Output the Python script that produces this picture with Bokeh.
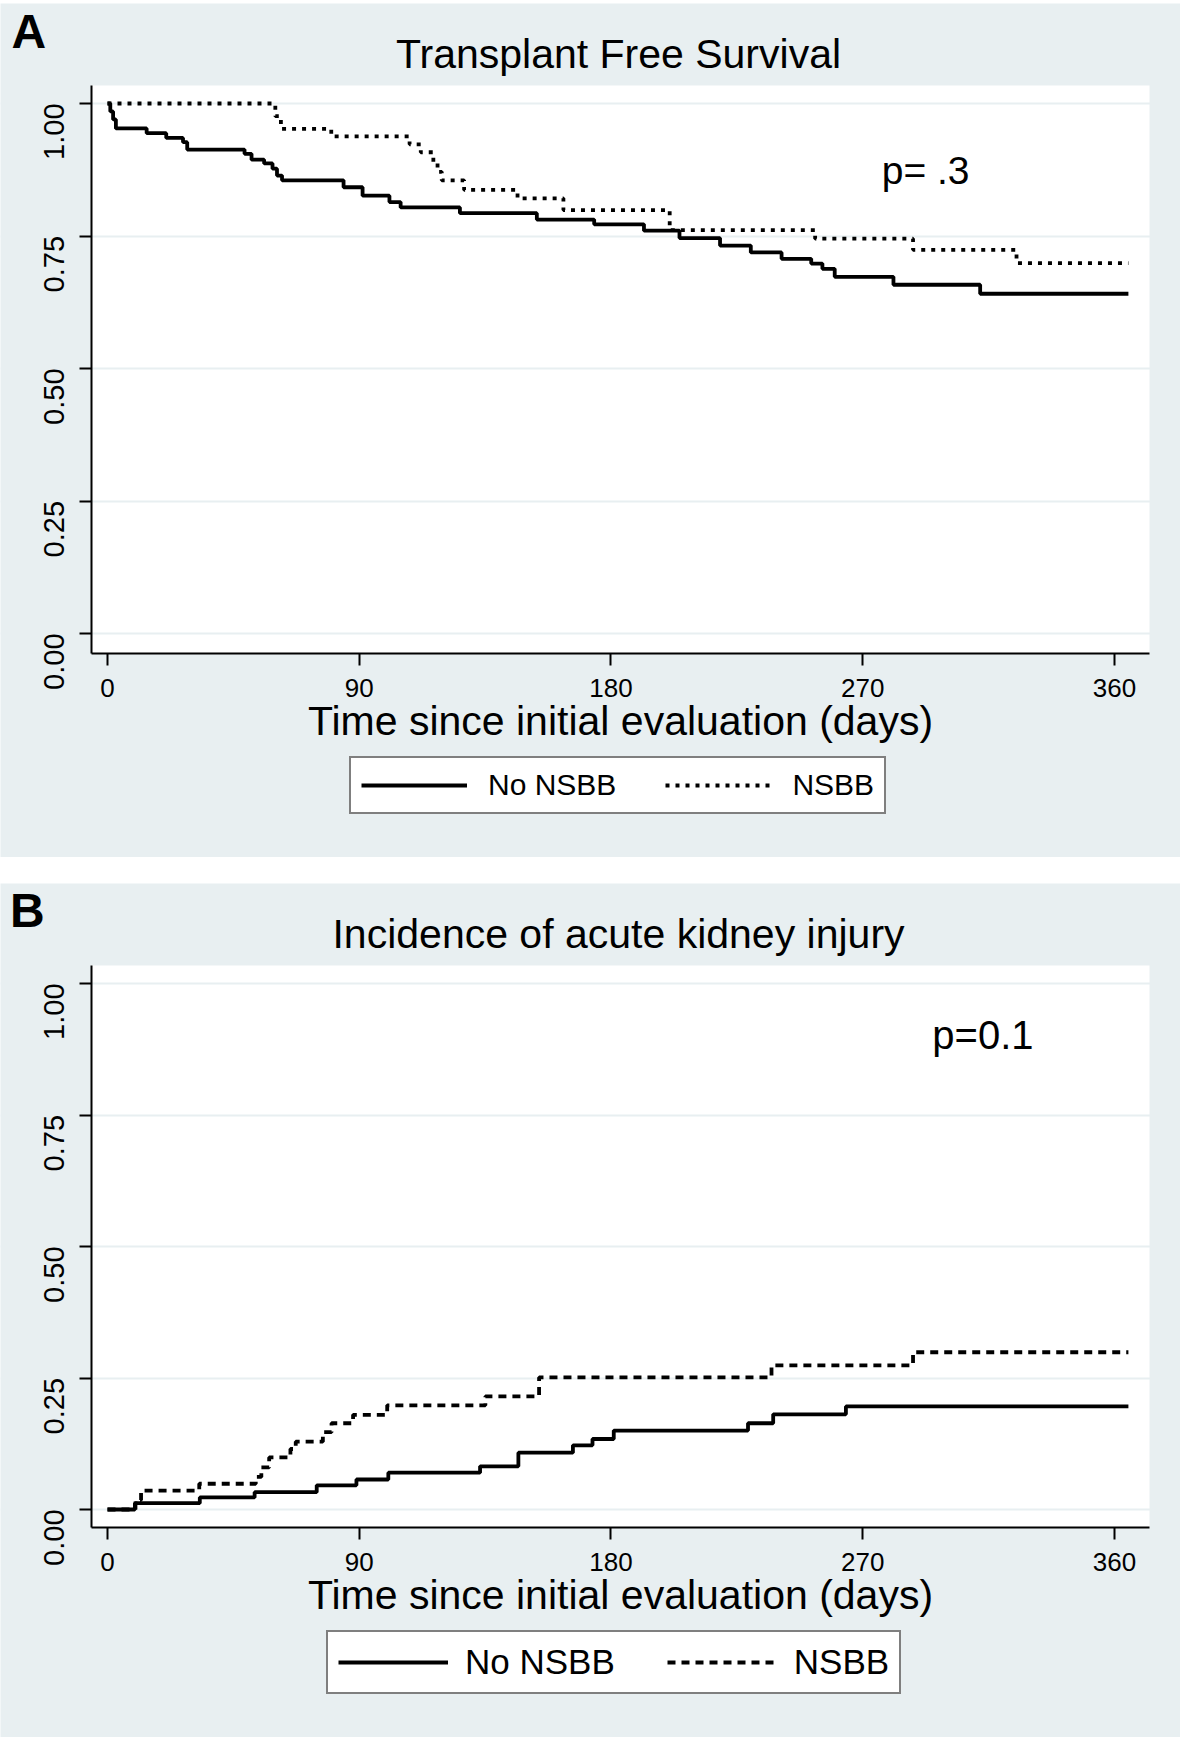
import math
from bokeh.plotting import figure
from bokeh.models import (Range1d, FixedTicker, Legend, LegendItem, Label, Spacer,
                          LinearAxis)
from bokeh.layouts import column
from bokeh.embed import file_html
from bokeh.resources import INLINE

# ---------------- data ----------------
x_ticks = [0, 90, 180, 270, 360]
y_ticks = [0.0, 0.25, 0.5, 0.75, 1.0]
y_tick_labels = ["0.00", "0.25", "0.50", "0.75", "1.00"]
series_names = ["No NSBB", "NSBB"]

# Panel A: Transplant free survival (Kaplan-Meier)
a_no_days = [0, 1, 2, 3, 14, 21, 27, 28.5, 49, 51.5, 56, 59, 60.6, 62.4, 84.4, 91.2,
             100.8, 104.8, 126, 153.5, 174, 191.8, 204.5, 219, 230, 241, 251.6, 255.6,
             260, 281, 312, 365]
a_no_surv = [1.0, 0.985, 0.97, 0.953, 0.944, 0.935, 0.927, 0.913, 0.905, 0.894, 0.887,
             0.877, 0.864, 0.855, 0.842, 0.826, 0.814, 0.804, 0.793, 0.781, 0.772, 0.760,
             0.746, 0.732, 0.719, 0.707, 0.698, 0.688, 0.673, 0.658, 0.641, 0.641]
a_yes_days = [0, 60, 62, 80, 108, 112, 116.5, 118, 119.5, 127.5, 146.6, 163, 201, 253,
              288, 325, 365]
a_yes_surv = [1.0, 0.976, 0.952, 0.938, 0.923, 0.908, 0.887, 0.871, 0.855, 0.837, 0.821,
              0.799, 0.761, 0.745, 0.724, 0.699, 0.699]

# Panel B: Incidence of acute kidney injury (cumulative incidence)
b_no_days = [0, 9.8, 33, 52.6, 74.8, 89, 100.4, 133.2, 146.9, 166.4, 173.4, 181, 229,
             238, 264, 365]
b_no_inc = [0.0, 0.012, 0.023, 0.033, 0.046, 0.057, 0.070, 0.082, 0.108, 0.122, 0.134,
            0.150, 0.164, 0.181, 0.196, 0.196]
b_yes_days = [0, 10, 12, 32.8, 53, 55, 57.8, 65.4, 67.3, 77, 80.1, 87.8, 100, 135.1,
              154.3, 237.4, 288, 365]
b_yes_inc = [0.0, 0.018, 0.036, 0.049, 0.062, 0.080, 0.099, 0.115, 0.129, 0.147, 0.164,
             0.180, 0.198, 0.215, 0.251, 0.274, 0.299, 0.299]

p_text_a = "p= .3"
p_pos_a = (292.5, 0.874)
p_text_b = "p=0.1"
p_pos_b = (313, 0.903)

# ---------------- style / geometry ----------------
BG = "#e8eff1"
FONT = "Liberation Sans"
W = 1180
H = 854
PX_PER_DAY = 2.797
X0_PX = 107.0          # page x of day 0
PLOT_L, PLOT_R = 91, 1149   # page x of the white plot region


def make_panel(letter, title, days1, vals1, days2, vals2, dash2, ptext, ppos, pfont,
               page_top, plot_top, plot_bot, y0_px, px_per_unit, title_mid,
               letter_x, letter_mid, legend_loc, leg_font, leg_glyph_w, leg_spacing,
               leg_standoff, leg_pad):
    # conversions from page pixels to data coordinates for this panel
    def dx(px):
        return (px - X0_PX) / PX_PER_DAY

    def dy(py):
        return (y0_px - py) / px_per_unit

    x_lo, x_hi = dx(0), dx(W)
    y_hi, y_lo = dy(page_top), dy(page_top + H)
    wl, wr = dx(PLOT_L), dx(PLOT_R)
    wb, wt = dy(plot_bot), dy(plot_top)

    p = figure(width=W, height=H, output_backend="svg", toolbar_location=None,
               x_range=Range1d(x_lo, x_hi), y_range=Range1d(y_lo, y_hi),
               x_axis_location=None, y_axis_location=None, min_border=0)
    p.min_border_left = 0
    p.min_border_right = 0
    p.min_border_top = 0
    p.min_border_bottom = 0
    p.background_fill_color = BG
    p.border_fill_color = BG
    p.outline_line_color = None

    # white plotting region
    p.quad(left=[wl], right=[wr], bottom=[wb], top=[wt], fill_color="white",
           line_color=None, level="image")

    p.xgrid.visible = False
    p.ygrid.ticker = FixedTicker(ticks=y_ticks)
    p.ygrid.grid_line_color = BG
    p.ygrid.grid_line_width = 2

    xaxis = LinearAxis(fixed_location=wb, bounds=(wl, wr),
                       ticker=FixedTicker(ticks=x_ticks))
    yaxis = LinearAxis(fixed_location=wl, bounds=(wb, wt),
                       ticker=FixedTicker(ticks=y_ticks))
    for ax in (xaxis, yaxis):
        ax.axis_line_color = "black"
        ax.axis_line_width = 2
        ax.major_tick_line_color = "black"
        ax.major_tick_line_width = 2
        ax.major_tick_out = 12
        ax.major_tick_in = 0
        ax.minor_tick_out = 0
        ax.minor_tick_in = 0
        ax.minor_tick_line_color = None
        ax.major_label_text_font = FONT
        ax.major_label_text_color = "black"
    xaxis.major_label_text_font_size = "26px"
    xaxis.major_label_standoff = 13
    xaxis.axis_label = "Time since initial evaluation (days)"
    xaxis.axis_label_text_font = FONT
    xaxis.axis_label_text_font_size = "41px"
    xaxis.axis_label_text_font_style = "normal"
    xaxis.axis_label_text_color = "black"
    xaxis.axis_label_standoff = -2

    yaxis.major_label_overrides = {t: s for t, s in zip(y_ticks, y_tick_labels)}
    yaxis.major_label_orientation = math.pi / 2
    yaxis.major_label_text_font_size = "29px"
    yaxis.major_label_standoff = 26
    p.add_layout(xaxis, "below")
    p.add_layout(yaxis, "left")

    r1 = p.step(days1, vals1, mode="after", line_color="black", line_width=3.8)
    r2 = p.step(days2, vals2, mode="after", line_color="black", line_width=3.8,
                line_dash=dash2)

    legend = Legend(items=[LegendItem(label=series_names[0], renderers=[r1]),
                           LegendItem(label=series_names[1], renderers=[r2])],
                    location=legend_loc, orientation="horizontal")
    legend.border_line_color = "black"
    legend.border_line_width = 2
    legend.background_fill_color = "white"
    legend.background_fill_alpha = 1.0
    legend.label_text_font = FONT
    legend.label_text_font_size = leg_font
    legend.label_text_color = "black"
    legend.glyph_width = leg_glyph_w
    legend.glyph_height = 28
    legend.spacing = leg_spacing
    legend.label_standoff = leg_standoff
    legend.padding = leg_pad
    legend.margin = 0
    p.add_layout(legend)

    # title, panel letter, p value
    p.add_layout(Label(x=dx((PLOT_L + PLOT_R) / 2 - 2), y=dy(title_mid), text=title,
                       text_font=FONT, text_font_size="41px", text_align="center",
                       text_baseline="middle", text_color="black"))
    p.add_layout(Label(x=dx(letter_x), y=dy(letter_mid), text=letter, text_font=FONT,
                       text_font_size="48px", text_font_style="bold",
                       text_baseline="middle", text_color="black"))
    p.add_layout(Label(x=ppos[0], y=ppos[1], text=ptext, text_font=FONT,
                       text_font_size=pfont, text_align="center",
                       text_baseline="middle", text_color="black"))
    return p


pa = make_panel("A", "Transplant Free Survival", a_no_days, a_no_surv,
                a_yes_days, a_yes_surv, "4 6", p_text_a, p_pos_a, "39px",
                page_top=3, plot_top=85, plot_bot=653, y0_px=633, px_per_unit=530,
                title_mid=53, letter_x=11, letter_mid=30.5,
                legend_loc=(349, 43), leg_font="30px", leg_glyph_w=106, leg_spacing=49,
                leg_standoff=21, leg_pad=10)
pb = make_panel("B", "Incidence of acute kidney injury", b_no_days, b_no_inc,
                b_yes_days, b_yes_inc, "8 6", p_text_b, p_pos_b, "40px",
                page_top=883, plot_top=965, plot_bot=1527, y0_px=1509, px_per_unit=526,
                title_mid=933.5, letter_x=9.5, letter_mid=910,
                legend_loc=(326, 43), leg_font="35px", leg_glyph_w=110, leg_spacing=52,
                leg_standoff=17, leg_pad=10)

layout = column(Spacer(width=W, height=3), pa, Spacer(width=W, height=26), pb)
open("out.html", "w").write(file_html(layout, INLINE))
